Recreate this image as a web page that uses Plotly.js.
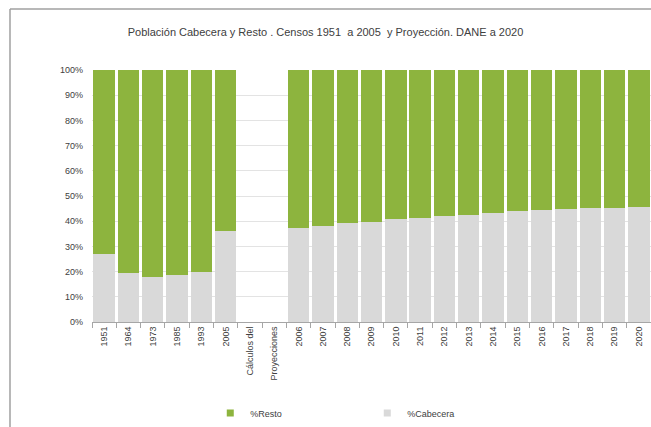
<!DOCTYPE html>
<html>
<head>
<meta charset="utf-8">
<script src="https://cdn.plot.ly/plotly-3.0.1.min.js"></script>
<style>html,body{margin:0;padding:0;background:#fff;}#chart{width:651px;height:427px;}</style>
</head>
<body>
<div id="chart"></div>
<script>
const categories = ["1951","1964","1973","1985","1993","2005","Cálculos del","Proyecciones",
  "2006","2007","2008","2009","2010","2011","2012","2013","2014","2015","2016","2017","2018","2019","2020"];
const cabecera = [27.0,19.4,17.9,18.7,19.8,36.2,null,null,
  37.3,38.2,39.2,39.8,40.8,41.3,41.9,42.4,43.1,43.9,44.3,44.7,45.1,45.2,45.6];
const resto = cabecera.map(v => v === null ? null : +(100 - v).toFixed(1));
const yTickVals = [0,10,20,30,40,50,60,70,80,90,100];
const yTickText = ["0%","10%","20%","30%","40%","50%","60%","70%","80%","90%","100%"];
const greenColor = "#8db43e";
const grayColor = "#d9d9d9";

const font = "Liberation Sans, Arial, sans-serif";
const traces = [
  {type:"bar", name:"%Cabecera", x:categories, y:cabecera, showlegend:false,
   marker:{color:grayColor, line:{width:0}}, hoverinfo:"x+y"},
  {type:"bar", name:"%Resto", x:categories, y:resto, showlegend:false,
   marker:{color:greenColor, line:{width:0}}, hoverinfo:"x+y"},
  {type:"scatter", mode:"markers", name:"%Resto", x:[null], y:[null],
   marker:{symbol:"square", size:7, color:greenColor}},
  {type:"scatter", mode:"markers", name:"%Cabecera", x:[null], y:[null],
   marker:{symbol:"square", size:7, color:grayColor}}
];
const layout = {
  width:651, height:427,
  margin:{l:92, r:0, t:70, b:105},
  paper_bgcolor:"#ffffff", plot_bgcolor:"#ffffff",
  barmode:"stack", bargap:0.12,
  font:{family:font, size:9, color:"#404040"},
  title:{text:"Población Cabecera y Resto . Censos 1951  a 2005  y Proyección. DANE a 2020",
    font:{family:font, size:11, color:"#404040"},
    xref:"container", x:0.5, xanchor:"center", yref:"container", y:1-32/427, yanchor:"middle"},
  xaxis:{type:"category", categoryorder:"array", categoryarray:categories,
    tickangle:-90, ticks:"outside", tickson:"boundaries", ticklen:5, tickcolor:"#a6a6a6",
    showline:true, linecolor:"#a6a6a6", linewidth:1, showgrid:false,
    tickfont:{family:font, size:9, color:"#404040"}, fixedrange:true},
  yaxis:{range:[0,100], tickvals:yTickVals, ticktext:yTickText,
    showgrid:true, gridcolor:"#e3e3e3", gridwidth:1, zeroline:false,
    showline:false, ticks:"", ticklabelstandoff:8,
    tickfont:{family:font, size:9, color:"#404040"}, fixedrange:true},
  showlegend:true,
  legend:{orientation:"h", traceorder:"normal", xref:"container", yref:"container",
    x:0.323, xanchor:"left", y:1-413/427, yanchor:"middle",
    entrywidth:112, entrywidthmode:"pixels", itemwidth:30,
    font:{family:font, size:9, color:"#404040"}},
  shapes:[
    {type:"line", xref:"paper", yref:"paper", x0:-0.1467, x1:-0.1467, y0:1.242, y1:-0.45,
     line:{color:"#a0a0a0", width:1.5}},
    {type:"line", xref:"paper", yref:"paper", x0:-0.1467, x1:1.01, y0:1.242, y1:1.242,
     line:{color:"#a0a0a0", width:1.5}}
  ]
};
Plotly.newPlot("chart", traces, layout, {displayModeBar:false, staticPlot:true});
</script>
</body>
</html>
